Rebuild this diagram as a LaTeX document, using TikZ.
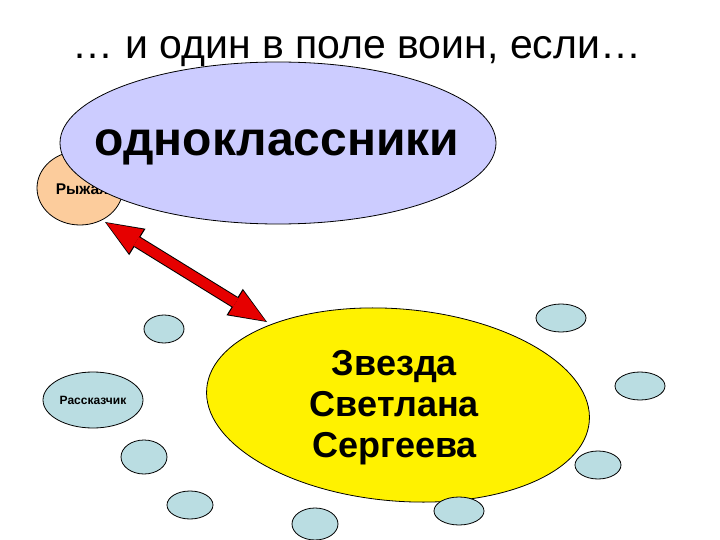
\documentclass[tikz,border=0pt]{standalone}
\usepackage{fontspec}
\setmainfont{Liberation Sans}
\usetikzlibrary{shapes.geometric,arrows.meta}
\definecolor{classblue}{RGB}{204,204,255}
\definecolor{ryzhorange}{RGB}{252,204,156}
\definecolor{guestblue}{RGB}{186,221,226}
\definecolor{arrowred}{RGB}{230,0,0}
\tikzset{
	person/.style={ellipse,draw,line width=0.8pt,inner sep=0pt},
	guest/.style={person,fill=guestblue},
}
\begin{document}
\begin{tikzpicture}[x=1pt,y=-1pt]
			\newcommand{\mytitlefont}[1]{
				\fontsize{41}{46}\selectfont{#1}
			}\newcommand{\myclassfont}[1]{
				\fontsize{48}{54}\selectfont\bfseries{#1}
			}\newcommand{\mystarfont}{
				\fontsize{36}{41}\selectfont\bfseries
			}\newcommand{\mysmallfont}[1]{
				\fontsize{#1}{#1}\selectfont\bfseries
			}%Page
			\useasboundingbox (0,0) rectangle (720,540);
			\fill[white] (0,0) rectangle (720,540);
			%Ryzhaya, half hidden behind the classmates
			\coordinate (centerRyzh) at (80,188);
			\node [person,fill=ryzhorange,minimum width=86pt,minimum height=74pt] (ryzh) at (centerRyzh) {};
			\node [] (ryzhlabel) at (82,189) {\mysmallfont{15.5}Рыжая};
			%Classmates
			\coordinate (centerClass) at (278,143);
			\node [person,fill=classblue,minimum width=436pt,minimum height=162pt] (classmates) at (centerClass) {};
			\node [] (classlabel) at (277,147) {\myclassfont{одноклассники}};
			%The star
			\coordinate (centerStar) at (398,405);
			\node [person,fill=yellow,minimum width=384pt,minimum height=192pt,rotate=-5] (star) at (centerStar) {};
			\node [align=center,font=\mystarfont] (starlabel) at (393,408) {Звезда\\Светлана\\Сергеева};
			%Storyteller
			\coordinate (centerTeller) at (93,400);
			\node [guest,minimum width=100pt,minimum height=56pt] (teller) at (centerTeller) {\mysmallfont{12}Рассказчик};
			%Empty guests round the star
			\foreach \gx/\gy/\gw/\gh [count=\i] in {164/329/40/28, 144/457/46/34, 190/505/46/28, 315/524/46/32,
				459/511/50/28, 598/465/46/28, 640/386/50/28, 561/318/50/28} {
				\node [guest,minimum width=\gw pt,minimum height=\gh pt] (g\i) at (\gx,\gy) {};
			}
			%The double arrow
			\coordinate (ryzhTip) at (105,222);
			\coordinate (starTip) at (267,322);
			\draw [black,line width=12pt,{Triangle[length=38pt,width=31pt,line width=0pt]}-{Triangle[length=38pt,width=31pt,line width=0pt]}] (ryzhTip) -- (starTip);
			\draw [arrowred,line width=10pt,shorten <=1.8pt,shorten >=1.8pt,{Triangle[length=35pt,width=28pt,line width=0pt]}-{Triangle[length=35pt,width=28pt,line width=0pt]}] (ryzhTip) -- (starTip);
			%Title
			\node [anchor=base] (title) at (357,59) {\mytitlefont{… и один в поле воин, если…}};
\end{tikzpicture}
\end{document}
